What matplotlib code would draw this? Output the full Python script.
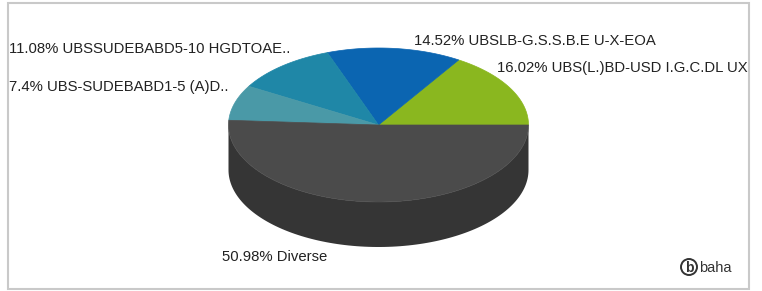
import matplotlib
matplotlib.use('Agg')
import matplotlib.pyplot as plt
import matplotlib.patches as mpatches
import numpy as np

labels = ['UBS(L.)BD-USD I.G.C.DL UX', 'UBSLB-G.S.S.B.E U-X-EOA',
          'UBSSUDEBABD5-10 HGDTOAE..', 'UBS-SUDEBABD1-5 (A)D..', 'Diverse']
shares = [16.02, 14.52, 11.08, 7.4, 50.98]
top_colors = ['#8ab71f', '#0b65b1', '#1f87a7', '#4a99a7', '#4b4b4b']
side_colors = ['#6a8f14', '#084f8a', '#186a83', '#3a7884', '#353535']

# label anchor (left, middle) in pixels
label_pos = [(497, 68), (414, 41), (9, 49), (9, 87), (222, 257)]

W, H = 762, 291
fig = plt.figure(figsize=(W / 100, H / 100), dpi=100, facecolor='white')
ax = fig.add_axes([0, 0, 1, 1])
ax.set_xlim(0, W)
ax.set_ylim(H, 0)
ax.axis('off')

frame = mpatches.Rectangle((8, 3), 741, 286, fill=False, edgecolor='#c9c9c9', lw=1.5)
ax.add_patch(frame)

cx, cy, rx, ry, depth = 378.5, 125, 150, 77, 45


def ell(t):
    return cx + rx * np.cos(t), cy - ry * np.sin(t)


bounds = np.concatenate([[0], np.cumsum(shares)]) / sum(shares) * 2 * np.pi

# side walls (front half only)
for i in range(len(shares)):
    a0, a1 = max(bounds[i], np.pi), min(bounds[i + 1], 2 * np.pi)
    if a1 <= a0:
        continue
    t = np.linspace(a0, a1, 120)
    x, y = ell(t)
    px = np.concatenate([x, x[::-1]])
    py = np.concatenate([y, (y + depth)[::-1]])
    ax.add_patch(mpatches.Polygon(np.column_stack([px, py]), closed=True,
                                  facecolor=side_colors[i], edgecolor='none'))

# top faces
for i in range(len(shares)):
    t = np.linspace(bounds[i], bounds[i + 1], 150)
    x, y = ell(t)
    pts = np.column_stack([np.r_[cx, x], np.r_[cy, y]])
    ax.add_patch(mpatches.Polygon(pts, closed=True, facecolor=top_colors[i],
                                  edgecolor=top_colors[i], lw=0.5))

for i, (lx, ly) in enumerate(label_pos):
    s = f'{shares[i]:g}% {labels[i]}'
    tx = ax.text(lx, ly, s, ha='left', va='center', fontsize=10.7,
                 family='Liberation Sans', color='#222222')
    tx.set_clip_path(frame)

# baha logo
ax.add_patch(mpatches.Circle((689, 267), 8, fill=False, edgecolor='#333333', lw=1.4))
ax.text(689, 267.5, 'b', ha='center', va='center', fontsize=10, fontweight='bold',
        family='Liberation Sans', color='#333333')
ax.text(699, 267.5, 'baha', ha='left', va='center', fontsize=10.5,
        family='Liberation Sans', color='#333333')

plt.savefig('out.png', dpi=100, facecolor='white')
